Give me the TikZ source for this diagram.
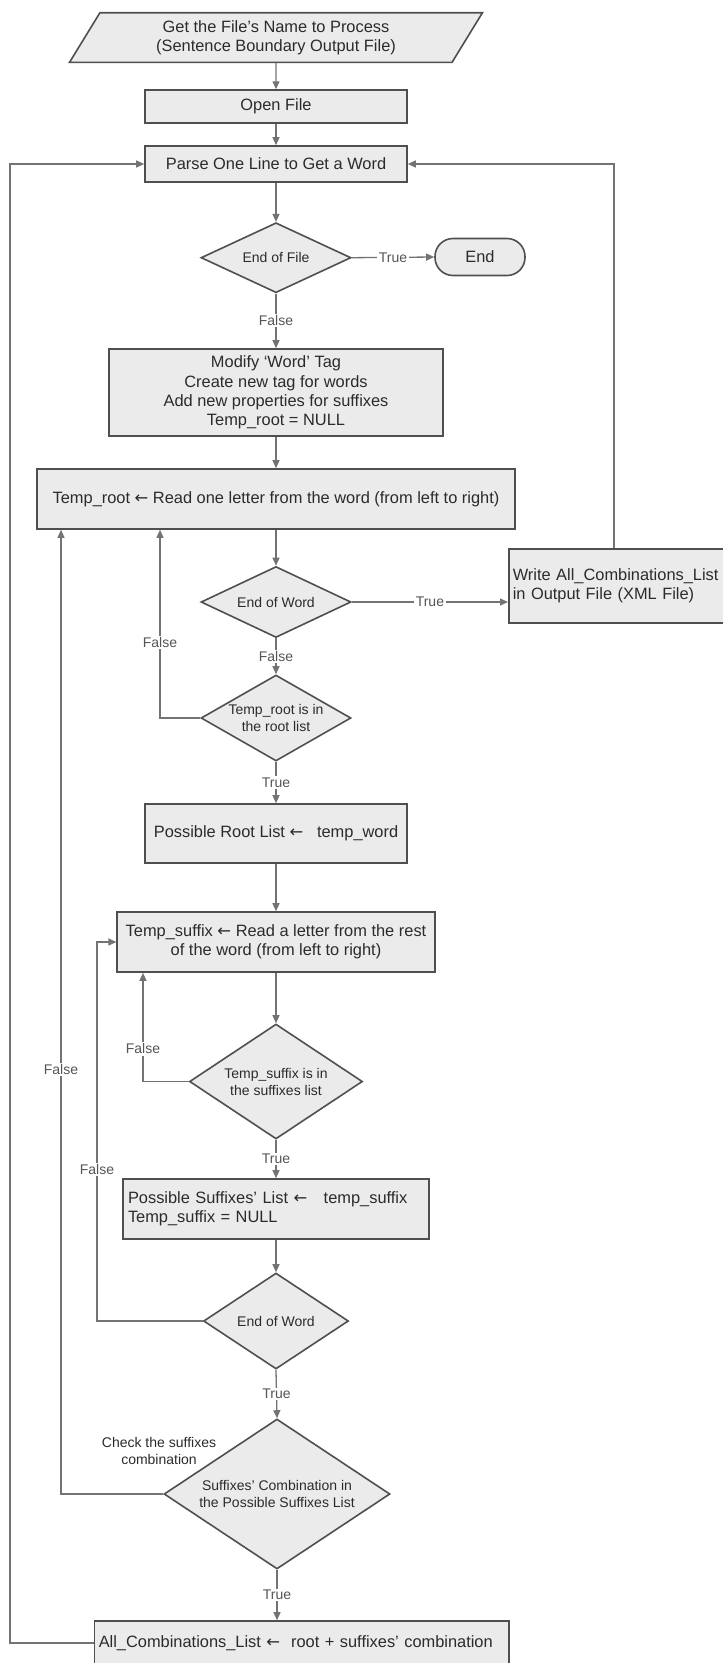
\documentclass[tikz,border=0pt]{standalone}
\usepackage{fontspec}
\setmainfont{Liberation Sans}
\newfontfamily\arrowfont{DejaVu Sans}
\newcommand{\assignarrow}{{\arrowfont ←}}
\usetikzlibrary{arrows.meta,shapes.geometric,calc}
\definecolor{boxfill}{HTML}{EBEBEB}
\definecolor{boxline}{HTML}{4F4F4F}
\definecolor{flowline}{HTML}{737373}
\definecolor{textcolor}{HTML}{2B2B2B}
\definecolor{labelcolor}{HTML}{555555}

\begin{document}
\begin{tikzpicture}[
  x=1pt, y=-1pt,
  >={Triangle[length=8pt,width=7pt]},
  every node/.style={text=textcolor},
  bigtext/.style={font=\fontsize{16.4}{19.4}\selectfont},
  smalltext/.style={font=\fontsize{14}{17}\selectfont},
  procbox/.style={bigtext, draw=boxline, fill=boxfill, line width=1.6pt, rectangle, inner sep=4pt},
  decision/.style={smalltext, draw=boxline, fill=boxfill, line width=1.6pt, diamond, inner sep=0pt, align=center},
  flow/.style={draw=flowline, line width=1.3pt, ->},
  branch/.style={smalltext, text=labelcolor, fill=white, inner sep=1.5pt}
]
  \useasboundingbox (0,0) rectangle (723,1663);

  \coordinate (loopL) at (10,0);
  \coordinate (loopR) at (614,0);
  \coordinate (loopA) at (160,0);
  \coordinate (loopB) at (143,0);
  \coordinate (loopC) at (97,0);
  \coordinate (loopD) at (61,0);

  \node[procbox, trapezium, trapezium left angle=63.4, trapezium right angle=116.6,
    trapezium stretches=true, minimum width=414pt, minimum height=49.6pt, align=center]
    (input) at (276,37.5) {Get the File's Name to Process\\(Sentence Boundary Output File)};
  \node[procbox, minimum width=262pt, minimum height=32.7pt] (openfile) at (276,106.4) {Open File};
  \node[procbox, minimum width=262pt, minimum height=36pt] (parse) at (276,164) {Parse One Line to Get a Word};
  \node[decision, minimum width=150pt, minimum height=70pt, aspect=2.14] (eof) at (276,257.7) {End of File};
  \node[procbox, rounded corners=18pt, minimum width=90pt, minimum height=37pt] (finish) at (480,257) {End};
  \node[procbox, minimum width=334pt, minimum height=87pt, align=center] (modify) at (276,392.5)
    {Modify `Word' Tag\\Create new tag for words\\Add new properties for suffixes\\Temp\_root = NULL};
  \node[procbox, minimum width=478pt, minimum height=60pt] (troot) at (276,499)
    {Temp\_root \assignarrow{} Read one letter from the word (from left to right)};
  \node[decision, minimum width=150pt, minimum height=71pt, aspect=2.1] (eowone) at (276,602) {End of Word};
  \node[procbox, anchor=west, minimum width=220pt, minimum height=74pt, text width=212pt, align=left]
    (writeout) at (508,586) {Write All\_Combinations\_List\\in Output File (XML File)};
  \node[decision, minimum width=150pt, minimum height=86pt, aspect=1.74] (inroot) at (276,718)
    {Temp\_root is in\\the root list};
  \node[procbox, minimum width=262pt, minimum height=59pt] (rootlist) at (276,833.5)
    {Possible Root List \assignarrow\ \ \ temp\_word};
  \node[procbox, minimum width=317.5pt, minimum height=60pt, align=center] (sufread) at (276,942)
    {Temp\_suffix \assignarrow{} Read a letter from the rest\\of the word (from left to right)};
  \node[decision, minimum width=173pt, minimum height=115pt, aspect=1.5] (insuf) at (276,1081.5)
    {Temp\_suffix is in\\the suffixes list};
  \node[procbox, minimum width=305.5pt, minimum height=60pt, text width=296pt, align=left] (suflist) at (276,1209)
    {Possible Suffixes' List \assignarrow\ \ \ temp\_suffix\\Temp\_suffix = NULL};
  \node[decision, minimum width=145pt, minimum height=96pt, aspect=1.51] (eowtwo) at (276,1321) {End of Word};
  \node[decision, minimum width=226pt, minimum height=150pt, aspect=1.5] (comb) at (277,1494)
    {Suffixes' Combination in\\the Possible Suffixes List};
  \node[smalltext, align=center] (checknote) at (159,1451) {Check the suffixes\\combination};
  \node[procbox, minimum width=414.5pt, minimum height=44pt, text width=406pt, align=left] (allcomb) at (301.75,1643)
    {All\_Combinations\_List \assignarrow\ \ root + suffixes' combination};

  \draw[flow] (input) -- (openfile);
  \draw[flow] (openfile) -- (parse);
  \draw[flow] (parse) -- (eof);
  \draw[flow] (eof.east) -- (finish.west) node[branch, midway] {True};
  \draw[flow] (eof.south) -- (modify.north) node[branch, midway] {False};
  \draw[flow] (modify) -- (troot);
  \draw[flow] (troot.south) -- (eowone.north);
  \draw[flow] (eowone.east) -- (eowone.east -| writeout.west) node[branch, midway] {True};
  \draw[flow] (eowone.south) -- (inroot.north) node[branch, midway] {False};
  \draw[flow] (inroot.west) -| (loopA |- troot.south) node[branch, pos=0.7] {False};
  \draw[flow] (inroot.south) -- (rootlist.north) node[branch, midway] {True};
  \draw[flow] (rootlist) -- (sufread);
  \draw[flow] (sufread.south) -- (insuf.north);
  \draw[flow] (insuf.west) -| (loopB |- sufread.south) node[branch, pos=0.65] {False};
  \draw[flow] (insuf.south) -- (suflist.north) node[branch, midway] {True};
  \draw[flow] (suflist.south) -- (eowtwo.north);
  \draw[flow] (eowtwo.west) -- (eowtwo.west -| loopC) -- (loopC |- sufread.west)
    node[branch, pos=0.4] {False} -- (sufread.west);
  \draw[flow] (eowtwo.south) -- (comb.north) node[branch, midway] {True};
  \draw[flow] (comb.west) -| (loopD |- troot.south) node[branch, pos=0.72] {False};
  \draw[flow] (comb.south) -- (comb.south |- allcomb.north) node[branch, midway] {True};
  \draw[flow] (allcomb.west) -- (allcomb.west -| loopL) |- (parse.west);
  \draw[flow] (loopR |- writeout.north) |- (parse.east);
\end{tikzpicture}
\end{document}
